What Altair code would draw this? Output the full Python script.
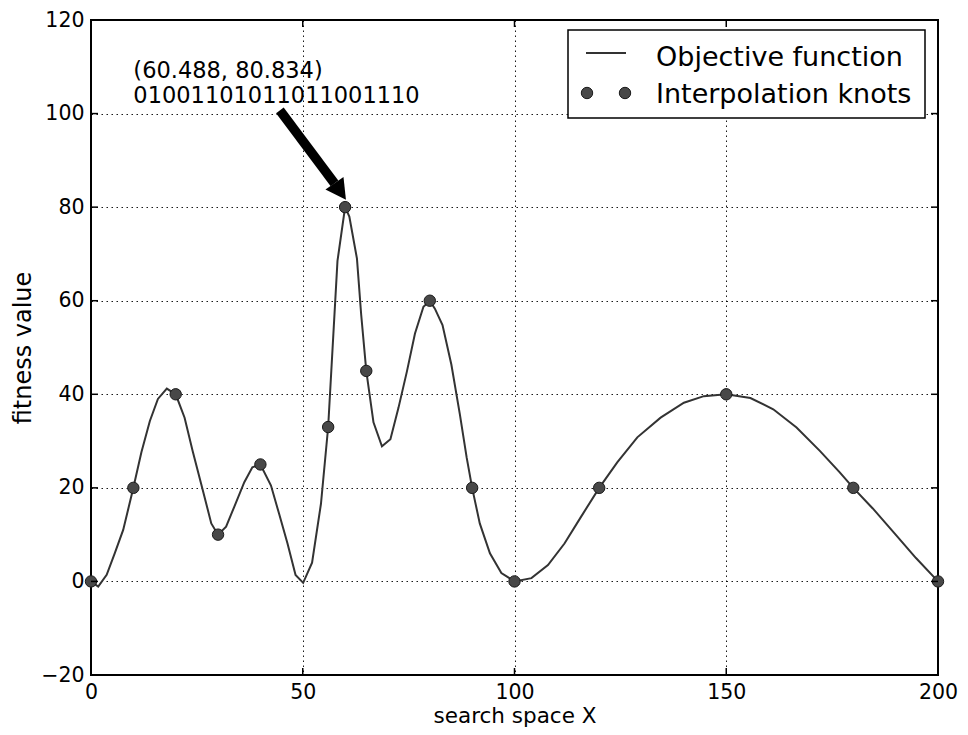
import altair as alt
import pandas as pd

# ---- data ----
curve_x = [0, 1.7, 3.7, 5.6, 7.6, 10, 11.9, 13.9, 15.8, 17.9, 20, 22.1, 24, 26.4, 28.4,
           30, 31.9, 33.8, 36.2, 38.1, 40, 42.5, 44.4, 46.4, 48.3, 50.1, 52.2, 54.3, 56,
           58.2, 60, 61, 62.8, 63.8, 65, 66.7, 68.7, 70.7, 72.6, 74.6, 76.5, 78.5, 80,
           81.2, 83, 85.1, 87.1, 88.7, 90, 91.8, 94.2, 96.9, 100, 104, 107.9, 111.8, 115.7,
           120, 124.3, 129, 134.5, 140, 144.7, 150, 155.7, 161.1, 166.6, 172.1, 176.8, 180,
           184.6, 190.1, 194.8, 200]
curve_y = [0, -1.1, 1.4, 6, 11, 20, 27.6, 34.3, 39, 41.2, 40, 35, 27.9, 19.5, 12.4,
           10, 11.7, 15.9, 21.2, 24.4, 25, 20.5, 14.5, 8.1, 1.4, -0.3, 4.0, 16.6, 33,
           68.5, 80, 78, 69, 57, 45, 34, 28.9, 30.4, 37.1, 44.9, 53, 58.7, 60,
           58.3, 54.8, 46.3, 35.7, 26.5, 20, 12.4, 6, 1.8, 0, 0.7, 3.5, 8.1, 13.8,
           20, 25.5, 30.8, 35, 38.2, 39.6, 40, 39.2, 36.8, 32.9, 27.9, 23.3, 20,
           15.6, 9.9, 5, 0]
knot_x = [0, 10, 20, 30, 40, 56, 60, 65, 80, 90, 100, 120, 150, 180, 200]
knot_y = [0, 20, 40, 10, 25, 33, 80, 45, 60, 20, 0, 20, 40, 20, 0]
x_ticks = [0, 50, 100, 150, 200]
y_ticks = [-20, 0, 20, 40, 60, 80, 100, 120]
annot_text = ["(60.488, 80.834)", "01001101011011001110"]
annot_x = [10, 10]
annot_y = [107.6, 102.2]
arrow_tail_x, arrow_tail_y = 44.6, 100.7
arrow_base_x, arrow_base_y = 57.5, 85.1
arrow_tip_x, arrow_tip_y = 60.2, 81.6
legend_labels = ["Objective function", "Interpolation knots"]

W, H = 847, 655
FONT = "DejaVu Sans"

curve_df = pd.DataFrame({"x": curve_x, "y": curve_y})
knot_df = pd.DataFrame({"x": knot_x, "y": knot_y})
xt_df = pd.DataFrame({"x": x_ticks})
yt_df = pd.DataFrame({"y": y_ticks})
annot_df = pd.DataFrame({"x": annot_x, "y": annot_y, "t": annot_text})
shaft_df = pd.DataFrame({"x": [arrow_tail_x], "y": [arrow_tail_y],
                         "x2": [arrow_base_x], "y2": [arrow_base_y]})
tip_df = pd.DataFrame({"x": [arrow_tip_x], "y": [arrow_tip_y]})
one = pd.DataFrame({"a": [0]})

xscale = alt.Scale(domain=[0, 200], nice=False, zero=False)
yscale = alt.Scale(domain=[-20, 120], nice=False, zero=False)

common_axis = dict(grid=True, gridDash=[1.5, 3.5], gridColor="black", gridWidth=1,
                   gridOpacity=0.9, ticks=False, tickSize=0, domain=False,
                   labelFont=FONT, labelFontSize=20.5, labelColor="black",
                   titleFont=FONT, titleFontWeight="normal",
                   titleColor="black", titleBaseline="alphabetic")
xaxis = alt.Axis(values=x_ticks, labelPadding=7, labelFlush=False,
                 title="search space X", titleFontSize=21.5, titleY=47, **common_axis)
yaxis = alt.Axis(values=y_ticks, labelPadding=7, title="fitness value", titleFontSize=24,
                 titleX=-61, titleY=H / 2, titleAlign="center", **common_axis)


def X(f="x"):
    return alt.X(f"{f}:Q", scale=xscale, axis=xaxis)


def Y(f="y"):
    return alt.Y(f"{f}:Q", scale=yscale, axis=yaxis)


line = alt.Chart(curve_df).mark_line(color="#333333", strokeWidth=2).encode(
    x=X(), y=Y(), order="x:Q")
knots = alt.Chart(knot_df).mark_circle(size=130, fill="#484848", stroke="#1a1a1a",
                                       strokeWidth=1, opacity=1).encode(x=X(), y=Y())

TL = 7
tick_style = dict(color="black", strokeWidth=1.5)
left_t = alt.Chart(yt_df).mark_rule(**tick_style).encode(
    y=Y(), x=alt.value(0), x2=alt.value(TL))
right_t = alt.Chart(yt_df).mark_rule(**tick_style).encode(
    y=Y(), x=alt.value(W - TL), x2=alt.value(W))
bottom_t = alt.Chart(xt_df).mark_rule(**tick_style).encode(
    x=X(), y=alt.value(H - TL), y2=alt.value(H))
top_t = alt.Chart(xt_df).mark_rule(**tick_style).encode(
    x=X(), y=alt.value(0), y2=alt.value(TL))

shaft = alt.Chart(shaft_df).mark_rule(color="black", strokeWidth=9.5, strokeCap="butt").encode(
    x=X(), y=Y(), x2="x2:Q", y2="y2:Q")
head = alt.Chart(tip_df).mark_point(shape="M0,0 L-1.1,-2 L1.1,-2 Z", filled=True,
                                    size=400, angle=325, color="black", opacity=1).encode(
    x=X(), y=Y())

annot = alt.Chart(annot_df).mark_text(align="left", baseline="alphabetic", font=FONT,
                                      fontSize=22.5, color="black").encode(
    x=X(), y=Y(), text="t:N")

# legend (drawn by hand to match the matplotlib look)
LX = 477
leg_box = alt.Chart(one).mark_rect(fill="white", stroke="black", strokeWidth=1.5).encode(
    x=alt.value(LX), x2=alt.value(LX + 357), y=alt.value(10), y2=alt.value(98))
leg_line = alt.Chart(one).mark_rule(color="#333333", strokeWidth=2).encode(
    x=alt.value(LX + 18), x2=alt.value(LX + 58), y=alt.value(33))
leg_dot1 = alt.Chart(one).mark_circle(size=130, fill="#484848", stroke="#1a1a1a",
                                      strokeWidth=1, opacity=1).encode(
    x=alt.value(LX + 19), y=alt.value(73))
leg_dot2 = alt.Chart(one).mark_circle(size=130, fill="#484848", stroke="#1a1a1a",
                                      strokeWidth=1, opacity=1).encode(
    x=alt.value(LX + 57), y=alt.value(73))
leg_text1 = alt.Chart(one).mark_text(align="left", baseline="alphabetic", font=FONT,
                                     fontSize=27, color="black",
                                     text=legend_labels[0]).encode(
    x=alt.value(LX + 88), y=alt.value(46))
leg_text2 = alt.Chart(one).mark_text(align="left", baseline="alphabetic", font=FONT,
                                     fontSize=27, color="black",
                                     text=legend_labels[1]).encode(
    x=alt.value(LX + 88), y=alt.value(83))

chart = alt.layer(
    line, knots, left_t, right_t, bottom_t, top_t, shaft, head, annot,
    leg_box, leg_line, leg_dot1, leg_dot2, leg_text1, leg_text2
).properties(
    width=W, height=H,
    background="white",
    autosize=alt.AutoSizeParams(type="none"),
    padding={"left": 83, "top": 12, "right": 22, "bottom": 52},
).configure_view(stroke="black", strokeWidth=2)

chart.save("out.html", embed_options={"renderer": "svg", "actions": False})
